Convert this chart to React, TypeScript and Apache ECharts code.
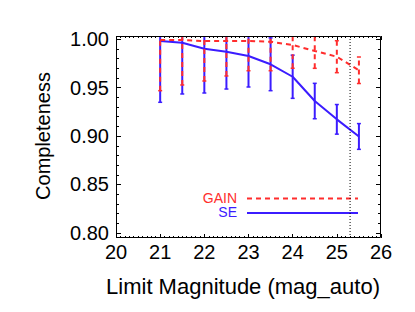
import React, { useEffect, useRef } from "react";
import * as echarts from "echarts";

// ---- data ----
const mags = [21, 21.5, 22, 22.5, 23, 23.5, 24, 24.5, 25, 25.5];
const seVals = [0.9982, 0.9965, 0.9903, 0.9872, 0.9827, 0.9742, 0.9613, 0.9362, 0.9173, 0.8996];
const seErr = [0.0633, 0.053, 0.0458, 0.0386, 0.032, 0.0273, 0.0223, 0.0183, 0.0153, 0.0133];
const gainVals = [0.9993, 0.9993, 0.9982, 0.9982, 0.9982, 0.9975, 0.9941, 0.9879, 0.982, 0.968];
const gainErr = [0.0524, 0.0465, 0.0413, 0.0361, 0.0307, 0.03, 0.024, 0.0179, 0.0165, 0.0137];
const limitMag = 25.3;
const xRange = [20, 26];
const yTickRange = [0.8, 1.0];
const yFrameRange = [0.7947, 1.0034];
const legendNames = ["GAIN", "SE"];
const xTitle = "Limit Magnitude (mag_auto)";
const yTitle = "Completeness";

const RED = "#ff2d2d";
const BLUE = "#3b1cff";
const FONT = "'Liberation Sans', Arial, Helvetica, sans-serif";

function errRender(color: string, dash: number[] | null) {
  return (params: any, api: any) => {
    const x = api.value(0);
    const lo = api.value(1);
    const hiRaw = api.value(2);
    const hi = Math.min(hiRaw, yFrameRange[1]);
    const p1 = api.coord([x, lo]);
    const p2 = api.coord([x, hi]);
    const cap = 2;
    const children: any[] = [
      {
        type: "line",
        shape: { x1: p1[0], y1: p1[1], x2: p2[0], y2: p2[1] },
        style: { stroke: color, lineWidth: 2, lineDash: dash || undefined },
      },
      {
        type: "line",
        shape: { x1: p1[0] - cap, y1: p1[1], x2: p1[0] + cap, y2: p1[1] },
        style: { stroke: color, lineWidth: 1.5 },
      },
    ];
    if (hiRaw <= yFrameRange[1]) {
      children.push({
        type: "line",
        shape: { x1: p2[0] - cap, y1: p2[1], x2: p2[0] + cap, y2: p2[1] },
        style: { stroke: color, lineWidth: 1.5 },
      });
    }
    return { type: "group", children };
  };
}

export default function App() {
  const ref = useRef<HTMLDivElement>(null);
  useEffect(() => {
    if (!ref.current) return;
    const chart = echarts.init(ref.current, undefined, { renderer: "svg" });
    const frameL = 116, frameR = 381, frameT = 36, frameB = 238;
    const pxPerUnit = (frameB - frameT) / (yFrameRange[1] - yFrameRange[0]);
    const gridTop = frameT + (yFrameRange[1] - yTickRange[1]) * pxPerUnit;
    const gridBottomPx = frameB - (yTickRange[0] - yFrameRange[0]) * pxPerUnit;

    const xAxisCommon = {
      type: "value",
      min: xRange[0],
      max: xRange[1],
      interval: 1,
      axisLine: { show: false },
      splitLine: { show: false },
      axisTick: { show: true, inside: true, length: 4, lineStyle: { color: "#000", width: 1 } },
      minorTick: { show: true, splitNumber: 10, length: 2, lineStyle: { color: "#000", width: 1 } },
      minorSplitLine: { show: false },
    };
    const yAxisCommon = {
      type: "value",
      min: yTickRange[0],
      max: yTickRange[1],
      interval: 0.05,
      axisLine: { show: false },
      splitLine: { show: false },
      axisTick: { show: true, inside: true, length: 5, lineStyle: { color: "#000", width: 1 } },
      minorTick: { show: true, splitNumber: 5, length: 3, lineStyle: { color: "#000", width: 1 } },
      minorSplitLine: { show: false },
    };

    chart.setOption({
      animation: false,
      backgroundColor: "#fff",
      grid: {
        left: frameL,
        right: 415 - frameR,
        top: gridTop,
        bottom: 312 - gridBottomPx,
        containLabel: false,
      },
      xAxis: [
        {
          ...xAxisCommon,
          position: "bottom",
          offset: frameB - gridBottomPx,
          axisLabel: {
            show: true,
            margin: 4,
            color: "#000",
            fontSize: 20,
            fontFamily: FONT,
            formatter: (v: number) => String(Math.round(v)),
          },
        },
        {
          ...xAxisCommon,
          position: "top",
          offset: gridTop - frameT,
          axisLabel: { show: false },
        },
      ],
      yAxis: [
        {
          ...yAxisCommon,
          position: "left",
          axisLabel: {
            show: true,
            margin: 7,
            color: "#000",
            fontSize: 20,
            fontFamily: FONT,
            formatter: (v: number) => v.toFixed(2),
          },
        },
        {
          ...yAxisCommon,
          position: "right",
          axisLabel: { show: false },
        },
      ],
      graphic: [
        {
          type: "rect",
          shape: { x: frameL + 0.5, y: frameT + 0.5, width: frameR - frameL - 1, height: frameB - frameT - 1 },
          style: { fill: "none", stroke: "#000", lineWidth: 1 },
          silent: true,
          z: 10,
        },
        {
          type: "text",
          x: 243,
          y: 286,
          style: {
            text: xTitle,
            fontSize: 22,
            fontFamily: FONT,
            fill: "#000",
            align: "center",
            verticalAlign: "middle",
          },
        },
        {
          type: "text",
          x: 43,
          y: 136,
          rotation: Math.PI / 2,
          style: {
            text: yTitle,
            fontSize: 20,
            fontFamily: FONT,
            fill: "#000",
            align: "center",
            verticalAlign: "middle",
          },
        },
        {
          type: "text",
          x: 237,
          y: 197.5,
          style: {
            text: legendNames[0],
            fontSize: 14,
            fontFamily: FONT,
            fill: RED,
            align: "right",
            verticalAlign: "middle",
          },
        },
        {
          type: "line",
          shape: { x1: 247, y1: 198.5, x2: 358, y2: 198.5 },
          style: { stroke: RED, lineWidth: 2, lineDash: [5, 4] },
        },
        {
          type: "text",
          x: 237,
          y: 212,
          style: {
            text: legendNames[1],
            fontSize: 14,
            fontFamily: FONT,
            fill: BLUE,
            align: "right",
            verticalAlign: "middle",
          },
        },
        {
          type: "line",
          shape: { x1: 247, y1: 213, x2: 358, y2: 213 },
          style: { stroke: BLUE, lineWidth: 2 },
        },
      ],
      series: [
        {
          type: "custom",
          name: "SE err",
          xAxisIndex: 0,
          yAxisIndex: 0,
          clip: false,
          renderItem: errRender(BLUE, null),
          data: mags.map((m, i) => [m, seVals[i] - seErr[i], seVals[i] + seErr[i]]),
          z: 2,
        },
        {
          type: "line",
          name: "SE",
          xAxisIndex: 0,
          yAxisIndex: 0,
          data: mags.map((m, i) => [m, seVals[i]]),
          symbol: "none",
          lineStyle: { color: BLUE, width: 2 },
          z: 3,
        },
        {
          type: "custom",
          name: "GAIN err",
          xAxisIndex: 0,
          yAxisIndex: 0,
          clip: false,
          renderItem: errRender(RED, [5, 4]),
          data: mags.map((m, i) => [m, gainVals[i] - gainErr[i], gainVals[i] + gainErr[i]]),
          z: 4,
        },
        {
          type: "line",
          name: "GAIN",
          xAxisIndex: 0,
          yAxisIndex: 0,
          data: mags.map((m, i) => [m, gainVals[i]]),
          symbol: "none",
          lineStyle: { color: RED, width: 2, type: [5, 4] },
          z: 5,
        },
        {
          type: "custom",
          name: "limit",
          xAxisIndex: 0,
          yAxisIndex: 0,
          clip: false,
          renderItem: (params: any, api: any) => {
            const p1 = api.coord([api.value(0), api.value(1)]);
            const p2 = api.coord([api.value(0), api.value(2)]);
            return {
              type: "line",
              shape: { x1: p1[0], y1: p1[1], x2: p2[0], y2: p2[1] },
              style: { stroke: "#000", lineWidth: 1, lineDash: [1, 2] },
            };
          },
          data: [[limitMag, yFrameRange[0], yFrameRange[1]]],
          z: 6,
        },
      ],
    });
    return () => chart.dispose();
  }, []);
  return (
    <div
      ref={ref}
      style={{ position: "absolute", left: 0, top: 0, width: 415, height: 312, background: "#fff" }}
    />
  );
}
